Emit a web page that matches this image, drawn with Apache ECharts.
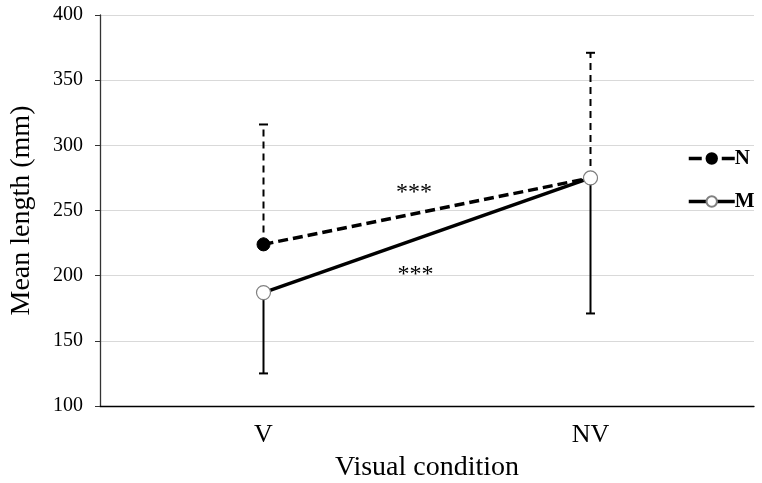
<!DOCTYPE html>
<html><head><meta charset="utf-8">
<script src="https://cdn.jsdelivr.net/npm/echarts@6/dist/echarts.min.js"></script>
<style>html,body{margin:0;padding:0;background:#fff}#c{width:762px;height:483px}</style>
</head><body><div id="c"></div>
<script>
const categories = ['V', 'NV'];
const seriesN = [224, 275];
const seriesM = [187, 275];
const errN_upper = [316, 371];
const errM_lower = [125, 171];
const yTicks = {min: 100, max: 400, interval: 50};
const annotations = [{x: 0.46, y: 264, text: '***'}, {x: 0.465, y: 201, text: '***'}];

const FONT = "'Liberation Serif','Times New Roman',serif";
const chart = echarts.init(document.getElementById('c'), null, {renderer: 'canvas'});

function errSeries(name, vals, ends, dashed, z) {
  return {
    type: 'custom', name: name + '_err', z: z, silent: true, legendHoverLink: false,
    data: vals.map((v, i) => [i, v, ends[i]]),
    renderItem: function (params, api) {
      const p0 = api.coord([api.value(0), api.value(1)]);
      const p1 = api.coord([api.value(0), api.value(2)]);
      return {
        type: 'group', children: [
          {type: 'line', shape: {x1: p0[0], y1: p0[1], x2: p1[0], y2: p1[1]},
           style: {stroke: '#000', lineWidth: 2, lineDash: dashed ? [7, 5] : null}},
          {type: 'line', shape: {x1: p1[0] - 4.5, y1: p1[1], x2: p1[0] + 4.5, y2: p1[1]},
           style: {stroke: '#000', lineWidth: 2}}
        ]
      };
    }
  };
}

chart.setOption({
  animation: false,
  grid: {left: 100, right: 8, top: 15, bottom: 77, containLabel: false, outerBoundsMode: 'none'},
  legend: {
    orient: 'vertical', left: 682, top: 143, itemGap: 22, itemWidth: 46, itemHeight: 13,
    data: [
      {name: 'N', lineStyle: {width: 3.5, type: [13, 20]}},
      {name: 'M', lineStyle: {width: 3.5}}
    ],
    textStyle: {fontFamily: FONT, fontWeight: 'bold', fontSize: 21, color: '#000', padding: [0, 0, 0, -5]}
  },
  xAxis: {
    type: 'category', data: categories, boundaryGap: true,
    axisLine: {lineStyle: {color: '#000', width: 1.3}},
    axisTick: {show: false},
    axisLabel: {fontFamily: FONT, fontSize: 26, color: '#000', margin: 16},
    name: 'Visual condition', nameLocation: 'middle', nameGap: 48,
    nameTextStyle: {fontFamily: FONT, fontSize: 28, color: '#000'}
  },
  yAxis: {
    type: 'value', min: yTicks.min, max: yTicks.max, interval: yTicks.interval,
    axisLine: {show: true, lineStyle: {color: '#333', width: 1.3}},
    axisTick: {show: true, length: 5, lineStyle: {color: '#333'}},
    axisLabel: {fontFamily: FONT, fontSize: 20, color: '#000', margin: 17},
    splitLine: {lineStyle: {color: '#d9d9d9', width: 1}},
    name: 'Mean length (mm)', nameLocation: 'middle', nameGap: 64,
    nameTextStyle: {fontFamily: FONT, fontSize: 28, color: '#000'}
  },
  series: [
    errSeries('N', seriesN, errN_upper, true, 1),
    errSeries('M', seriesM, errM_lower, false, 1),
    {
      name: 'N', type: 'line', data: seriesN, z: 3,
      symbol: 'circle', symbolSize: 13,
      lineStyle: {color: '#000', width: 3.5, type: [10, 5]},
      itemStyle: {color: '#000', borderColor: '#000', borderWidth: 1}
    },
    {
      name: 'M', type: 'line', data: seriesM, z: 4,
      symbol: 'circle', symbolSize: 14,
      lineStyle: {color: '#000', width: 3.5, type: 'solid'},
      itemStyle: {color: '#fff', borderColor: '#808080', borderWidth: 1.2}
    }
  ]
});

const gfx = annotations.map(a => {
  const p0 = chart.convertToPixel({gridIndex: 0}, [0, a.y]);
  const p1 = chart.convertToPixel({gridIndex: 0}, [1, a.y]);
  return {type: 'text', x: p0[0] + (p1[0] - p0[0]) * a.x, y: p0[1],
    style: {text: a.text, font: '24px ' + FONT, fill: '#000', textAlign: 'center', textVerticalAlign: 'middle'}};
});
chart.setOption({graphic: gfx});
</script></body></html>
